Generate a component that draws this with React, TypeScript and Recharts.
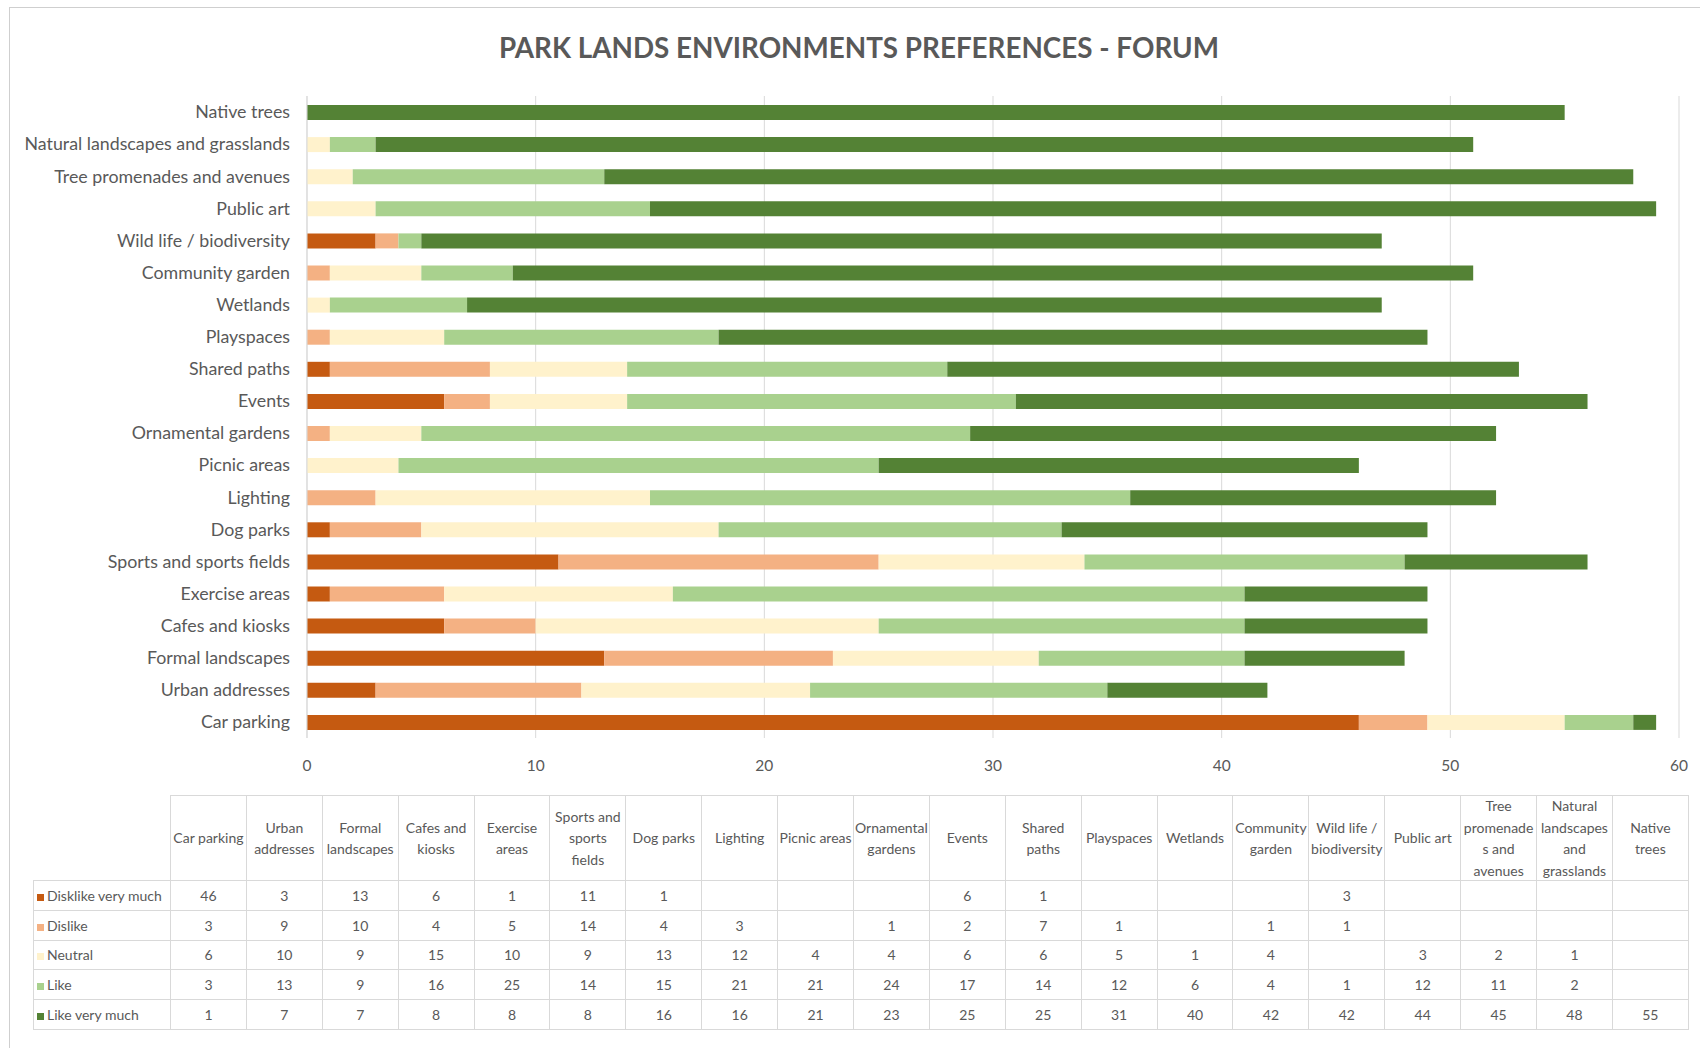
import { BarChart, Bar, XAxis, YAxis, CartesianGrid } from "recharts";

// categories in table order (first one sits at the bottom of the chart)
const categories = [
  "Car parking",
  "Urban addresses",
  "Formal landscapes",
  "Cafes and kiosks",
  "Exercise areas",
  "Sports and sports fields",
  "Dog parks",
  "Lighting",
  "Picnic areas",
  "Ornamental gardens",
  "Events",
  "Shared paths",
  "Playspaces",
  "Wetlands",
  "Community garden",
  "Wild life / biodiversity",
  "Public art",
  "Tree promenades and avenues",
  "Natural landscapes and grasslands",
  "Native trees",
];

// header text of the data table, wrapped like the original
const tableHeaders = [
  "Car parking",
  "Urban\naddresses",
  "Formal\nlandscapes",
  "Cafes and\nkiosks",
  "Exercise\nareas",
  "Sports and\nsports\nfields",
  "Dog parks",
  "Lighting",
  "Picnic areas",
  "Ornamental\ngardens",
  "Events",
  "Shared\npaths",
  "Playspaces",
  "Wetlands",
  "Community\ngarden",
  "Wild life /\nbiodiversity",
  "Public art",
  "Tree\npromenade\ns and\navenues",
  "Natural\nlandscapes\nand\ngrasslands",
  "Native\ntrees",
];

const seriesNames = ["Disklike very much", "Dislike", "Neutral", "Like", "Like very much"];

const dislikeVeryMuch = [46, 3, 13, 6, 1, 11, 1, null, null, null, 6, 1, null, null, null, 3, null, null, null, null];
const dislike = [3, 9, 10, 4, 5, 14, 4, 3, null, 1, 2, 7, 1, null, 1, 1, null, null, null, null];
const neutral = [6, 10, 9, 15, 10, 9, 13, 12, 4, 4, 6, 6, 5, 1, 4, null, 3, 2, 1, null];
const like = [3, 13, 9, 16, 25, 14, 15, 21, 21, 24, 17, 14, 12, 6, 4, 1, 12, 11, 2, null];
const likeVeryMuch = [1, 7, 7, 8, 8, 8, 16, 16, 21, 23, 25, 25, 31, 40, 42, 42, 44, 45, 48, 55];

const xTicks = [0, 10, 20, 30, 40, 50, 60];

const series = [dislikeVeryMuch, dislike, neutral, like, likeVeryMuch];
const COLORS = ["#c55a11", "#f4b183", "#fff2cc", "#a9d18e", "#548235"];
const KEYS = ["s0", "s1", "s2", "s3", "s4"];

const FONT = "Lato, 'Open Sans', sans-serif";
const TEXT = "#595959";
const BORDER = "#d9d9d9";

const data = categories.map((name, i) => {
  const row: Record<string, string | number> = { name };
  series.forEach((s, k) => {
    row[KEYS[k]] = s[i] ?? 0;
  });
  return row;
});

const COL_W = 75.9;

export default function App() {
  return (
    <div style={{ position: "relative", width: 1700, height: 1048, background: "#fff", fontFamily: FONT }}>
      <style>{`body{margin:0;background:#fff}`}</style>

      {/* frame lines */}
      <div style={{ position: "absolute", left: 9, top: 7, width: 1691, height: 1041, borderTop: "1px solid #cfcfcf", borderLeft: "1px solid #cfcfcf" }} />

      <div
        style={{
          position: "absolute",
          left: 0,
          width: 1718,
          top: 30,
          textAlign: "center",
          fontWeight: 700,
          fontSize: 27.8,
          color: TEXT,
          lineHeight: "36px",
        }}
      >
        PARK LANDS ENVIRONMENTS PREFERENCES - FORUM
      </div>

      <div style={{ position: "absolute", left: 0, top: 0 }}>
        <BarChart
          width={1700}
          height={790}
          data={data}
          layout="vertical"
          margin={{ top: 96, right: 21, left: 0, bottom: 0 }}
          barSize={15}
        >
          <CartesianGrid horizontal={false} vertical stroke={BORDER} />
          <XAxis
            type="number"
            domain={[0, 60]}
            ticks={xTicks}
            axisLine={false}
            tickLine={false}
            tickMargin={16}
            height={52}
            tick={{ fill: TEXT, fontSize: 15.5, fontFamily: FONT }}
          />
          <YAxis
            type="category"
            dataKey="name"
            reversed
            width={307}
            interval={0}
            axisLine={{ stroke: BORDER }}
            tickLine={false}
            tickMargin={11}
            tick={{ fill: TEXT, fontSize: 17.8, fontFamily: FONT }}
          />
          {KEYS.map((k, i) => (
            <Bar key={k} dataKey={k} name={seriesNames[i]} stackId="a" fill={COLORS[i]} isAnimationActive={false} />
          ))}
        </BarChart>
      </div>

      <table
        style={{
          position: "absolute",
          left: 33,
          top: 795,
          borderCollapse: "collapse",
          tableLayout: "fixed",
          fontFamily: FONT,
          fontSize: 14,
          color: TEXT,
        }}
      >
        <colgroup>
          <col style={{ width: 137 }} />
          {categories.map((c) => (
            <col key={c} style={{ width: COL_W }} />
          ))}
        </colgroup>
        <tbody>
          <tr>
            <td style={{ borderRight: `1px solid ${BORDER}`, borderBottom: `1px solid ${BORDER}`, padding: 0 }} />
            {tableHeaders.map((h) => (
              <td key={h} style={{ border: `1px solid ${BORDER}`, padding: 0 }}>
                <div
                  style={{
                    height: 84,
                    display: "flex",
                    alignItems: "center",
                    justifyContent: "center",
                    textAlign: "center",
                    whiteSpace: "pre-line",
                    lineHeight: "21.5px",
                    overflow: "visible",
                  }}
                >
                  {h}
                </div>
              </td>
            ))}
          </tr>
          {series.map((s, k) => (
            <tr key={k} style={{ height: 29.8 }}>
              <td style={{ border: `1px solid ${BORDER}`, padding: "0 0 0 3px", whiteSpace: "nowrap", overflow: "hidden" }}>
                <span
                  style={{
                    display: "inline-block",
                    width: 7,
                    height: 7,
                    background: COLORS[k],
                    marginRight: 3,
                    verticalAlign: "middle",
                  }}
                />
                {seriesNames[k]}
              </td>
              {s.map((v, i) => (
                <td key={i} style={{ border: `1px solid ${BORDER}`, textAlign: "center", padding: 0 }}>
                  {v ?? ""}
                </td>
              ))}
            </tr>
          ))}
        </tbody>
      </table>
    </div>
  );
}
